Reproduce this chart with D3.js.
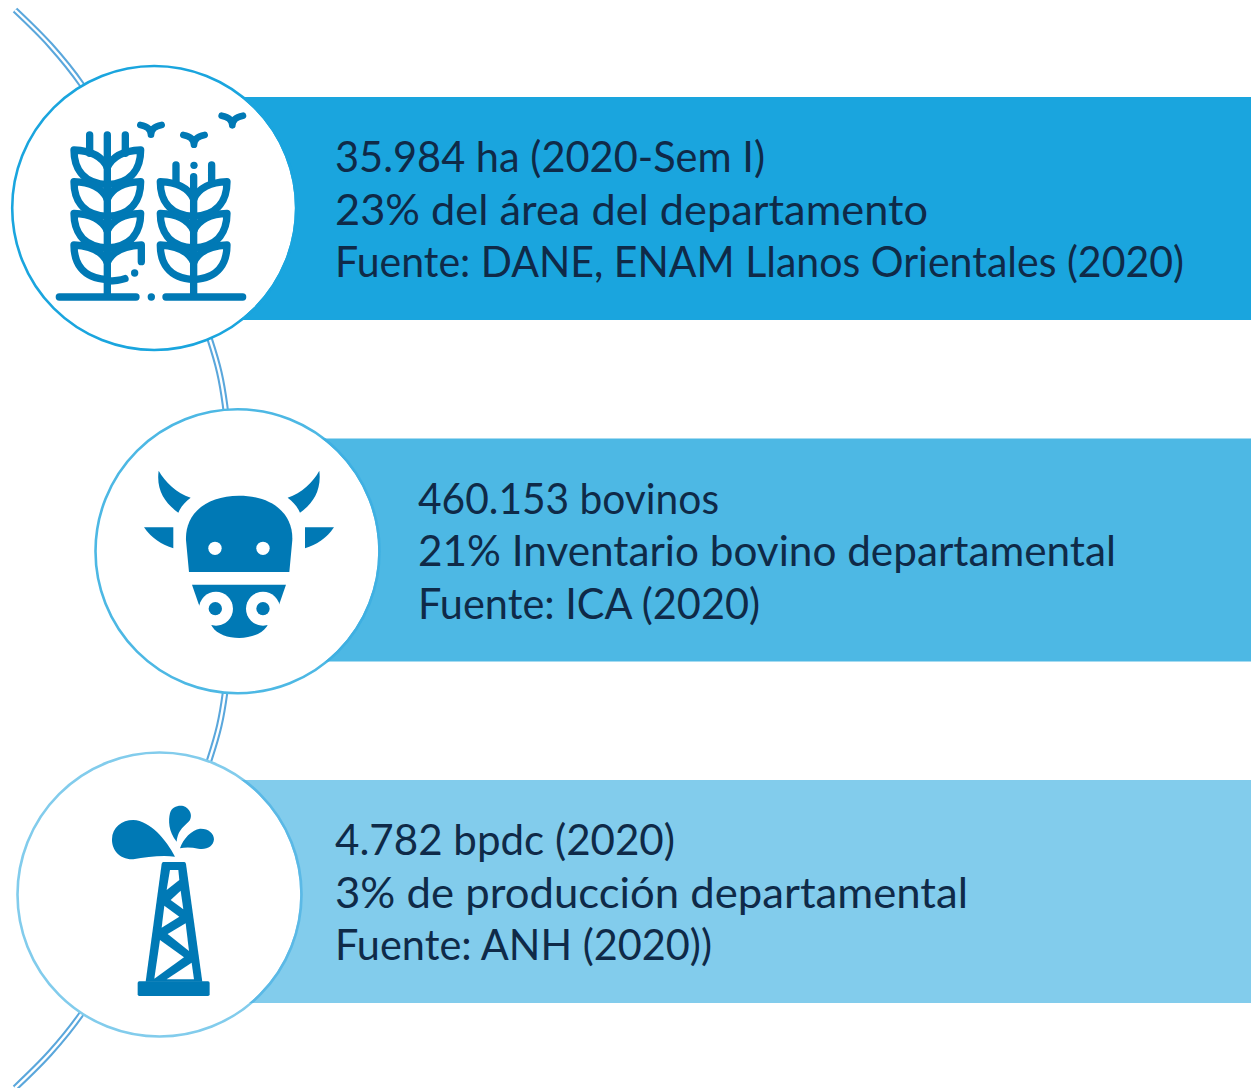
<!DOCTYPE html>
<html>
<head>
<meta charset="utf-8">
<script src="https://cdn.jsdelivr.net/npm/d3@7"></script>
<style>
  html, body { margin: 0; padding: 0; background: #fff; }
  text { font-family: "Lato", sans-serif; }
</style>
</head>
<body>
<svg width="1251" height="1088"></svg>
<script>
// row data
var categories = ['agricola', 'bovino', 'petroleo'];
var line1 = ['35.984 ha (2020-Sem I)', '460.153 bovinos', '4.782 bpdc (2020)'];
var line2 = ['23% del área del departamento', '21% Inventario bovino departamental', '3% de producción departamental'];
var line3 = ['Fuente: DANE, ENAM Llanos Orientales (2020)', 'Fuente: ICA (2020)', 'Fuente: ANH (2020))'];
var rowColors = ['#1aa5de', '#4db8e4', '#82ccec'];
var rimColors = ['#1aa5de', '#3fb0e2', '#5bb9e6'];
var circleX = [154.2, 237.5, 159.5];
var curveX = [15, 50, 82, 150, 210, 225, 231, 225, 210, 150, 82, 50, 15];
var curveY = [10, 45, 85, 200, 340, 405, 549, 693, 758, 898, 1013, 1053, 1088];
// widths of each text line, the font here is not the original one
var width1 = [430, 301, 340];
var width2 = [593, 698, 633];
var width3 = [849, 342, 377];

var iconBlue = '#0079b5';
var textColor = '#0f2a48';

var svg = d3.select('svg');

// rows sit on a band scale, same pitch for the three
var y = d3.scaleBand().domain(categories).range([97, 1003]).paddingInner(0.347).paddingOuter(0);
var yCircle = d3.scalePoint().domain(categories).range([208, 894.5]);
var xCircle = d3.scaleOrdinal().domain(categories).range(circleX);
var color = d3.scaleOrdinal().domain(categories).range(rowColors);
var rim = d3.scaleOrdinal().domain(categories).range(rimColors);

// double line behind the circles
var curve = d3.line().x(function (d) { return d[0]; }).y(function (d) { return d[1]; }).curve(d3.curveCatmullRom);
var pts = d3.zip(curveX, curveY);
svg.append('path').attr('d', curve(pts)).attr('fill', 'none').attr('stroke', '#5aa7dc').attr('stroke-width', 6.5);
svg.append('path').attr('d', curve(pts)).attr('fill', 'none').attr('stroke', '#fff').attr('stroke-width', 2.4);

// bars
svg.selectAll('rect.bar')
  .data(categories)
  .enter()
  .append('rect')
  .attr('class', 'bar')
  .attr('x', function (d) { return xCircle(d); })
  .attr('y', function (d) { return y(d); })
  .attr('width', function (d) { return 1251 - xCircle(d); })
  .attr('height', y.bandwidth())
  .attr('fill', function (d) { return color(d); });

// clip for the darker rim where a circle crosses its bar
svg.append('defs').selectAll('clipPath')
  .data(categories)
  .enter()
  .append('clipPath')
  .attr('id', function (d) { return 'clip-' + d; })
  .append('rect')
  .attr('x', function (d) { return xCircle(d); })
  .attr('y', function (d) { return y(d); })
  .attr('width', function (d) { return 1251 - xCircle(d); })
  .attr('height', y.bandwidth());

// circles
svg.selectAll('circle.disc')
  .data(categories)
  .enter()
  .append('circle')
  .attr('class', 'disc')
  .attr('cx', function (d) { return xCircle(d); })
  .attr('cy', function (d) { return yCircle(d); })
  .attr('r', 142)
  .attr('fill', '#fff')
  .attr('stroke', function (d) { return color(d); })
  .attr('stroke-width', 2.6);

svg.selectAll('circle.rim')
  .data(categories)
  .enter()
  .append('circle')
  .attr('class', 'rim')
  .attr('cx', function (d) { return xCircle(d); })
  .attr('cy', function (d) { return yCircle(d); })
  .attr('r', 142)
  .attr('fill', 'none')
  .attr('stroke', function (d) { return rim(d); })
  .attr('stroke-width', 2.6)
  .attr('clip-path', function (d) { return 'url(#clip-' + d + ')'; });

// text, three lines per row
var textX = [335, 418, 335];
categories.forEach(function (c, i) {
  var lines = [line1[i], line2[i], line3[i]];
  var widths = [width1[i], width2[i], width3[i]];
  svg.selectAll('text.t' + i)
    .data(lines)
    .enter()
    .append('text')
    .attr('class', 't' + i)
    .attr('x', textX[i])
    .attr('y', function (d, j) { return y(c) + 75 + j * 52.5; })
    .attr('font-size', 42)
    .attr('fill', textColor)
    .attr('textLength', function (d, j) { return widths[j]; })
    .attr('lengthAdjust', 'spacingAndGlyphs')
    .text(function (d) { return d; });
});

var wheat = svg.append('g').attr('transform', 'scale(0.3333)')
  .attr('fill', 'none').attr('stroke', iconBlue).attr('stroke-width', 22)
  .attr('stroke-linecap', 'round').attr('stroke-linejoin', 'round');

function leaf(cx, s, half, t) {
  // s is -1 for the left leaf, 1 for the right one
  return 'M' + cx + ',' + (t + 52) +
    ' C' + (cx + s * 15) + ',' + (t + 20) + ' ' + (cx + s * 50) + ',' + (t + 2) + ' ' + (cx + s * half) + ',' + t +
    ' C' + (cx + s * half) + ',' + (t + 50) + ' ' + (cx + s * (half - 22)) + ',' + (t + 100) + ' ' + cx + ',' + (t + 104);
}
[[322, [450, 545, 640]], [581, [545, 640, 735]]].forEach(function (p) {
  p[1].forEach(function (t) {
    wheat.append('path').attr('d', leaf(p[0], -1, 100, t));
    wheat.append('path').attr('d', leaf(p[0], 1, 100, t));
  });
});
// lower tier of left plant is open on the right
wheat.append('path').attr('d', leaf(322, -1, 100, 735));
wheat.append('path').attr('d', 'M322,787 C337,755 372,737 424,735 L424,785');
wheat.append('path').attr('d', 'M322,843 C340,843 358,842 375,836');
// stems and awns
wheat.append('path').attr('d', 'M322,405 V885 M269,405 V460 M376,405 V460');
wheat.append('path').attr('d', 'M581,530 V885 M528,495 V545 M635,495 V545');
wheat.append('path').attr('d', 'M178,891 H408 M498,891 H728').attr('stroke-width', 22);
// birds
[[453, 375], [582, 405], [697, 347]].forEach(function (b) {
  wheat.append('path').attr('stroke-width', 20)
    .attr('d', 'M' + (b[0] - 32) + ',' + b[1] + ' Q' + b[0] + ',' + (b[1] + 6) + ' ' + b[0] + ',' + (b[1] + 29) + ' Q' + b[0] + ',' + (b[1] + 6) + ' ' + (b[0] + 32) + ',' + b[1]);
});
// seed dots
[[582, 496], [404, 819], [454, 891]].forEach(function (p) {
  wheat.append('circle').attr('cx', p[0]).attr('cy', p[1]).attr('r', 11).attr('fill', iconBlue).attr('stroke', 'none');
});

// cow icon
var cow = svg.append('g').attr('transform', 'translate(90,400) scale(0.3333)').attr('fill', iconBlue);
cow.append('path').attr('d', 'M297,516 L288,420 C285,340 350,287 447,287 C545,287 610,340 607,420 L598,516 Z');
cow.append('path').attr('d', 'M306,554 H588 L568,612 L530,680 C500,725 395,725 367,680 L326,612 Z');
cow.append('path').attr('d', 'M206,212 C225,245 260,280 302,293 C285,305 273,320 265,338 C225,310 198,270 206,212 Z');
cow.append('path').attr('d', 'M688,212 C670,245 635,280 593,293 C610,305 622,320 630,338 C670,310 695,270 688,212 Z');
cow.append('path').attr('d', 'M162,382 H250 V445 C215,435 185,415 162,382 Z');
cow.append('path').attr('d', 'M732,382 H645 V445 C680,435 710,415 732,382 Z');
[[375, 445, 20], [519, 445, 20], [378, 626, 51], [519, 626, 51]].forEach(function (c) {
  cow.append('circle').attr('cx', c[0]).attr('cy', c[1]).attr('r', c[2]).attr('fill', '#fff');
});
[[376, 626], [519, 626]].forEach(function (c) {
  cow.append('circle').attr('cx', c[0]).attr('cy', c[1]).attr('r', 20);
});

// oil tower icon
var oil = svg.append('g').attr('transform', 'translate(0,740) scale(0.3333)').attr('fill', iconBlue);
oil.append('path').attr('d', 'M525,350 C490,345 440,350 400,358 C360,360 335,330 336,298 C337,262 365,240 400,240 C450,242 500,300 525,350 Z');
oil.append('path').attr('d', 'M530,305 C505,275 505,240 510,220 C515,200 535,195 550,198 C570,205 578,225 570,240 C555,260 535,265 530,305 Z');
oil.append('path').attr('d', 'M540,325 C550,295 575,270 600,266 C625,265 642,280 642,298 C640,320 620,330 595,326 C575,322 555,322 540,325 Z');
oil.append('path').attr('d', 'M490,366 H553 Q557,366 558,372 L607,725 H437 L485,372 Q486,366 490,366 Z');
oil.append('rect').attr('x', 413).attr('y', 724).attr('width', 216).attr('height', 44).attr('rx', 5);
['510,390 535,390 538,420 500,450', '542,452 550,508 512,480', '493,497 538,530 485,563',
 '557,550 567,633 503,582', '480,600 552,652 463,716', '575,668 582,718 500,718'].forEach(function (p) {
  oil.append('polygon').attr('points', p).attr('fill', '#fff');
});
</script>
</body>
</html>
